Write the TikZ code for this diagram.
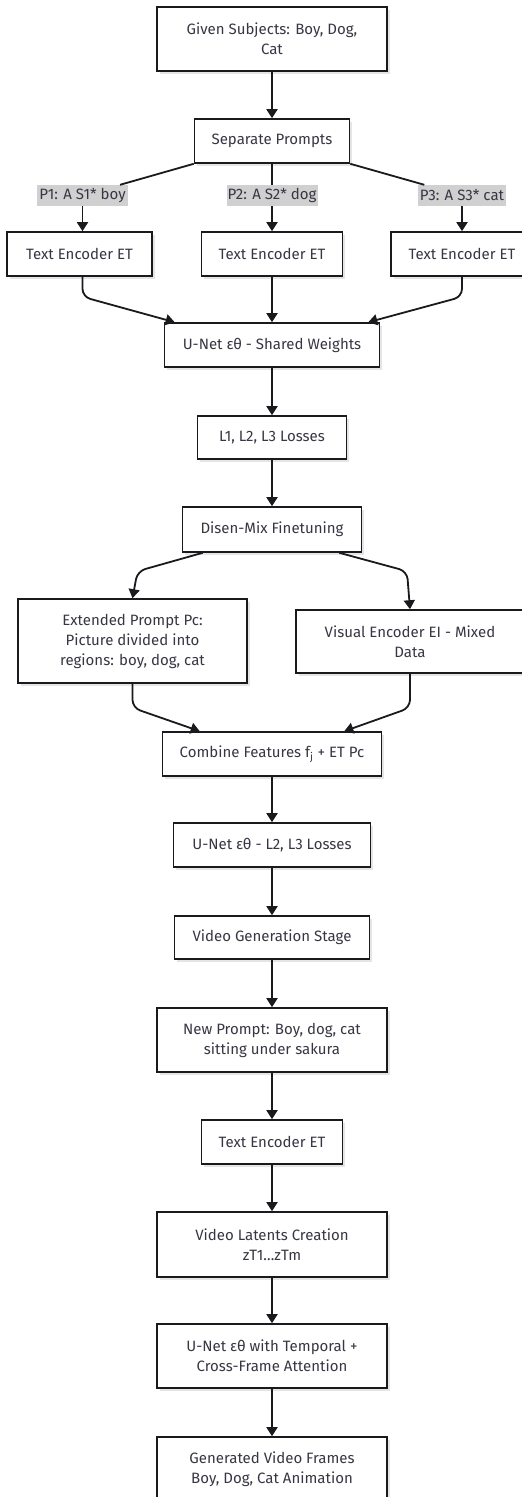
\documentclass[tikz,border=0pt]{standalone}
\usepackage{fontspec}
\setmainfont{Fira Sans}
\usetikzlibrary{arrows.meta,calc,shadows}
\definecolor{txt}{RGB}{55,55,68}
\definecolor{edgec}{RGB}{25,25,30}
\definecolor{lbl}{RGB}{208,208,208}
\begin{document}
\begin{tikzpicture}[x=1pt,y=-1pt,
  box/.style={draw=edgec, line width=1.6pt, fill=white, text=txt, align=center, inner sep=0pt,
    font=\fontsize{15}{20}\selectfont,
    drop shadow={shadow xshift=2.5pt, shadow yshift=-2.5pt, fill=black!10, opacity=1}},
  lab/.style={fill=lbl, text=txt, inner sep=0pt, minimum height=21pt, font=\fontsize{15}{20}\selectfont},
  arr/.style={-{Triangle[length=9pt,width=11pt]}, line width=1.8pt, draw=edgec},
  ln/.style={line width=1.8pt, draw=edgec}]
\useasboundingbox (0,0) rectangle (522,1497);
\clip (0,0) rectangle (522,1497);

\node[box, minimum width=230pt, minimum height=64pt] (given) at (272,39) {Given Subjects: Boy, Dog,\\Cat};
\node[box, minimum width=155pt, minimum height=44pt] (sep) at (272,141) {Separate Prompts};
\node[lab, minimum width=91pt] (p1) at (82.5,195.5) {P1: A S1* boy};
\node[lab, minimum width=91pt] (p2) at (272,195.5) {P2: A S2* dog};
\node[lab, minimum width=88pt] (p3) at (462,195.5) {P3: A S3* cat};
\node[box, minimum width=145pt, minimum height=44pt] (te1) at (79.5,254) {Text Encoder ET};
\node[box, minimum width=141pt, minimum height=44pt] (te2) at (272,254) {Text Encoder ET};
\node[box, minimum width=142pt, minimum height=44pt] (te3) at (462,254) {Text Encoder ET};
\node[box, minimum width=215pt, minimum height=44pt] (unet1) at (272,345) {U-Net εθ - Shared Weights};
\node[box, minimum width=149pt, minimum height=43pt] (loss) at (272,437.5) {L1, L2, L3 Losses};
\node[box, minimum width=179pt, minimum height=45pt] (disen) at (272,529.5) {Disen-Mix Finetuning};
\node[box, minimum width=229pt, minimum height=84pt] (ext) at (132.5,641) {Extended Prompt Pc:\\Picture divided into\\regions: boy, dog, cat};
\node[box, minimum width=228pt, minimum height=63pt] (vis) at (410,641.5) {Visual Encoder EI - Mixed\\Data};
\node[box, minimum width=219pt, minimum height=44pt] (comb) at (272,754) {Combine Features f\textsubscript{j} + ET Pc};
\node[box, minimum width=197pt, minimum height=44pt] (unet2) at (272,845) {U-Net εθ - L2, L3 Losses};
\node[box, minimum width=195pt, minimum height=43pt] (vgen) at (272,937.5) {Video Generation Stage};
\node[box, minimum width=230pt, minimum height=64pt] (newp) at (272,1040) {New Prompt: Boy, dog, cat\\sitting under sakura};
\node[box, minimum width=141pt, minimum height=44pt] (te4) at (272,1142) {Text Encoder ET};
\node[box, minimum width=230pt, minimum height=65pt] (lat) at (272,1244.5) {Video Latents Creation\\zT1…zTm};
\node[box, minimum width=230pt, minimum height=64pt] (unet3) at (272,1356) {U-Net εθ with Temporal +\\Cross-Frame Attention};
\node[box, minimum width=230pt, minimum height=64pt] (gen) at (272,1469) {Generated Video Frames\\Boy, Dog, Cat Animation};

\draw[arr] (given.south) -- (given.south |- sep.north);
\draw[ln] (sep.south west) -- (p1);
\draw[ln] (sep.south) -- (p2);
\draw[ln] (sep.south east) -- (p3);
\draw[arr] (p1.south) -- (p1.south |- te1.north);
\draw[arr] (p2.south) -- (p2.south |- te2.north);
\draw[arr] (p3.south) -- (p3.south |- te3.north);
\draw[arr, rounded corners=8pt] (te1.south -| p1.south) -- ($(te1.south -| p1.south)+(0,20)$) -- ($(unet1.north west)+(11,0)$);
\draw[arr] (te2.south) -- (te2.south |- unet1.north);
\draw[arr, rounded corners=8pt] (te3.south) -- ($(te3.south)+(0,20)$) -- ($(unet1.north east)+(-12,0)$);
\draw[arr] (unet1.south) -- (unet1.south |- loss.north);
\draw[arr] (loss.south) -- (loss.south |- disen.north);
\draw[arr, rounded corners=8pt] ($(disen.south west)+(21,0)$) -- ($(ext.north)+(5,-27)$) -- (ext.north);
\draw[arr, rounded corners=8pt] ($(disen.south east)+(-23,0)$) -- ($(vis.north)+(-3,-38)$) -- (vis.north);
\draw[arr, rounded corners=8pt] (ext.south) -- ($(ext.south)+(0,24)$) -- ($(comb.north west)+(38,0)$);
\draw[arr, rounded corners=8pt] (vis.south) -- ($(vis.south)+(0,34)$) -- ($(comb.north east)+(-38,0)$);
\draw[arr] (comb.south) -- (comb.south |- unet2.north);
\draw[arr] (unet2.south) -- (unet2.south |- vgen.north);
\draw[arr] (vgen.south) -- (vgen.south |- newp.north);
\draw[arr] (newp.south) -- (newp.south |- te4.north);
\draw[arr] (te4.south) -- (te4.south |- lat.north);
\draw[arr] (lat.south) -- (lat.south |- unet3.north);
\draw[arr] (unet3.south) -- (unet3.south |- gen.north);
\end{tikzpicture}
\end{document}
